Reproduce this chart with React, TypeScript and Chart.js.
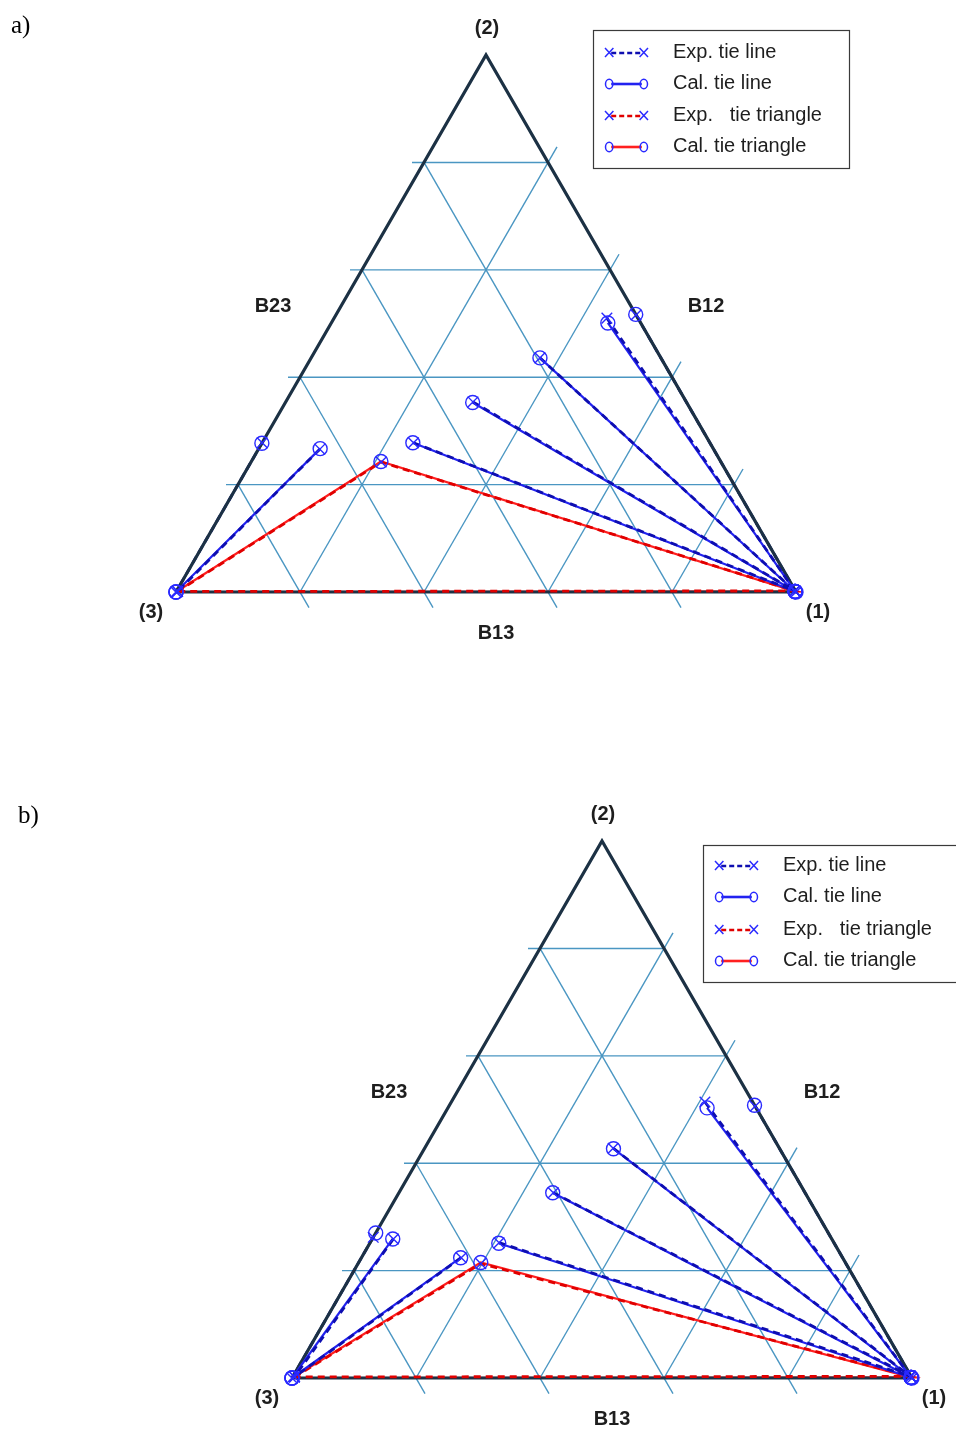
import React, { useEffect, useRef } from "react";
import { Chart, registerables } from "chart.js";

Chart.register(...registerables);

type Comp = [number, number]; // [x1, x2], x3 = 1 - x1 - x2

// ---------- shared labels / ticks ----------
const gridTicks = [0.2, 0.4, 0.6, 0.8];
const vertexLabels = ["(1)", "(2)", "(3)"];
const edgeLabels = ["B12", "B23", "B13"];
const panelLabels = ["a)", "b)"];
const legendLabels = ["Exp. tie line", "Cal. tie line", "Exp.   tie triangle", "Cal. tie triangle"];
const vertices: Comp[] = [[1, 0], [0, 1], [0, 0]]; // (1), (2), (3)

// ---------- panel a) ----------
const aExpTieLines: Comp[][] = [
  [[0.440, 0.510], [0.997, 0.002]],
  [[0.369, 0.436], [0.997, 0.002]],
  [[0.302, 0.354], [0.997, 0.002]],
  [[0.244, 0.278], [0.997, 0.002]],
  [[0.099, 0.266], [0.002, 0.001]],
];
const aCalTieLines: Comp[][] = [
  [[0.446, 0.501], [0.998, 0.001]],
  [[0.369, 0.436], [0.998, 0.001]],
  [[0.302, 0.353], [0.998, 0.001]],
  [[0.243, 0.278], [0.998, 0.001]],
  [[0.099, 0.267], [0.0, 0.0]],
];
const aExpBinary: Comp[][] = [
  [[0.484, 0.516], [1, 0]],
  [[0.0, 0.278], [0, 0]],
];
const aCalBinary: Comp[][] = [
  [[0.483, 0.517], [1, 0]],
  [[0.0, 0.277], [0, 0]],
];
const aExpTriangle: Comp[] = [[0.002, 0.001], [0.210, 0.242], [0.997, 0.002]];
const aCalTriangle: Comp[] = [[0.0, 0.0], [0.209, 0.243], [0.998, 0.001]];

// ---------- panel b) ----------
const bExpTieLines: Comp[][] = [
  [[0.409, 0.514], [0.996, 0.003]],
  [[0.304, 0.428], [0.996, 0.003]],
  [[0.249, 0.345], [0.996, 0.003]],
  [[0.208, 0.252], [0.996, 0.003]],
  [[0.161, 0.224], [0.003, 0.002]],
  [[0.034, 0.259], [0.003, 0.002]],
];
const bCalTieLines: Comp[][] = [
  [[0.418, 0.503], [0.998, 0.001]],
  [[0.305, 0.427], [0.998, 0.001]],
  [[0.248, 0.345], [0.998, 0.001]],
  [[0.208, 0.251], [0.998, 0.001]],
  [[0.160, 0.224], [0.0, 0.0]],
  [[0.033, 0.259], [0.0, 0.0]],
];
const bExpBinary: Comp[][] = [
  [[0.494, 0.506], [1, 0]],
  [[0.0, 0.262], [0, 0]],
];
const bCalBinary: Comp[][] = [
  [[0.492, 0.508], [1, 0]],
  [[0.0, 0.270], [0, 0]],
];
const bExpTriangle: Comp[] = [[0.003, 0.002], [0.198, 0.213], [0.996, 0.003]];
const bCalTriangle: Comp[] = [[0.0, 0.0], [0.197, 0.215], [0.998, 0.001]];

// ---------- styling ----------
const SQ = Math.sqrt(3) / 2;
const PX = 620; // pixels per composition unit
const W = 956;
const GRID = "#4a96c2";
const EDGE = "#1c3144";
const BLUE_CAL = "#2222f0";
const BLUE_EXP = "#0e0eb0";
const RED_CAL = "#ff2020";
const RED_EXP = "#e00000";
const MARK = "#2a2aff";
const TEXT = "#1e1e1e";

const toXY = (c: Comp) => ({ x: c[0] + c[1] / 2, y: c[1] * SQ });

function gridSegments(ticks: number[]) {
  const hExt = 12 / PX;
  const sExt = 18 / PX;
  const segs: { x: number; y: number }[][] = [];
  ticks.forEach((t) => {
    const a = toXY([0, t]);
    const b = toXY([1 - t, t]);
    segs.push([{ x: a.x - hExt, y: a.y }, b]);
    const c = toXY([t, 0]);
    const d = toXY([t, 1 - t]);
    segs.push([c, { x: d.x + sExt * 0.5, y: d.y + sExt * SQ }]);
    const e = toXY([0, 1 - t]);
    const f = toXY([1 - t, 0]);
    segs.push([e, { x: f.x + sExt * 0.5, y: f.y - sExt * SQ }]);
  });
  return segs;
}

type Panel = {
  label: string;
  height: number;
  top: number;
  ox: number; // pixel of vertex (3) inside canvas
  oy: number;
  expTie: Comp[][];
  calTie: Comp[][];
  expBin: Comp[][];
  calBin: Comp[][];
  expTri: Comp[];
  calTri: Comp[];
  panelPos: [number, number];
  legend: { left: number; top: number; width: number; height: number; rows: number[]; sx0: number; sx1: number; tx: number };
};

const panels: Panel[] = [
  {
    label: panelLabels[0],
    height: 715,
    top: 0,
    ox: 176,
    oy: 592,
    expTie: aExpTieLines,
    calTie: aCalTieLines,
    expBin: aExpBinary,
    calBin: aCalBinary,
    expTri: aExpTriangle,
    calTri: aCalTriangle,
    panelPos: [11, 33],
    legend: { left: 593, top: 30, width: 256, height: 138, rows: [52, 83, 115, 146], sx0: 605, sx1: 648, tx: 673 },
  },
  {
    label: panelLabels[1],
    height: 714,
    top: 715,
    ox: 292,
    oy: 663,
    expTie: bExpTieLines,
    calTie: bCalTieLines,
    expBin: bExpBinary,
    calBin: bCalBinary,
    expTri: bExpTriangle,
    calTri: bCalTriangle,
    panelPos: [18, 108],
    legend: { left: 703, top: 130, width: 300, height: 137, rows: [150, 181, 214, 245], sx0: 715, sx1: 758, tx: 783 },
  },
];

function seg(pts: { x: number; y: number }[], color: string, width: number, dash: number[], order: number) {
  return {
    data: pts,
    showLine: true,
    borderColor: color,
    borderWidth: width,
    borderDash: dash,
    pointRadius: 0,
    pointHoverRadius: 0,
    fill: false,
    tension: 0,
    order,
    clip: false as const,
    borderJoinStyle: "miter" as const,
    borderCapStyle: "butt" as const,
  };
}

function markers(pts: Comp[], style: string, radius: number, order: number) {
  return {
    data: pts.map(toXY),
    showLine: false,
    pointStyle: style,
    pointRadius: radius,
    pointHoverRadius: radius,
    pointBorderColor: MARK,
    pointBackgroundColor: "rgba(0,0,0,0)",
    pointBorderWidth: 1.4,
    order,
    clip: false as const,
  };
}

function buildDatasets(p: Panel) {
  const ds: any[] = [];
  gridSegments(gridTicks).forEach((s) => ds.push(seg(s, GRID, 1.4, [], 100)));
  [...p.calBin].forEach((l) => ds.push(seg(l.map(toXY), BLUE_CAL, 2.2, [], 96)));
  [...p.expBin].forEach((l) => ds.push(seg(l.map(toXY), BLUE_EXP, 2.8, [7, 5], 95)));
  const calTri = [...p.calTri, p.calTri[0]].map(toXY);
  const expTri = [...p.expTri, p.expTri[0]].map(toXY);
  ds.push(seg(calTri, RED_CAL, 2.2, [], 92));
  ds.push(seg([vertices[2], vertices[0], vertices[1], vertices[2]].map(toXY), EDGE, 3.2, [], 90));
  ds.push(seg(expTri, RED_EXP, 2.8, [7, 5], 50));
  p.calTie.forEach((l) => ds.push(seg(l.map(toXY), BLUE_CAL, 2.2, [], 41)));
  p.expTie.forEach((l) => ds.push(seg(l.map(toXY), BLUE_EXP, 2.8, [7, 5], 40)));
  const calPts: Comp[] = [...p.calTie.flat(), ...p.calBin.flat(), ...p.calTri] as Comp[];
  const expPts: Comp[] = [...p.expTie.flat(), ...p.expBin.flat(), ...p.expTri] as Comp[];
  ds.push(markers(calPts, "circle", 7, 11));
  ds.push(markers(expPts, "crossRot", 7.5, 10));
  return ds;
}

function labelPlugin(p: Panel) {
  return {
    id: "ternaryText" + p.label,
    afterDraw(chart: any) {
      const ctx: CanvasRenderingContext2D = chart.ctx;
      const xs = chart.scales.x;
      const ys = chart.scales.y;
      const pix = (c: Comp) => {
        const v = toXY(c);
        return [xs.getPixelForValue(v.x), ys.getPixelForValue(v.y)];
      };
      ctx.save();
      const items: { t: string; at: Comp; dx: number; dy: number }[] = [
        { t: vertexLabels[1], at: vertices[1], dx: 1, dy: -27 },
        { t: vertexLabels[2], at: vertices[2], dx: -25, dy: 20 },
        { t: vertexLabels[0], at: vertices[0], dx: 22, dy: 20 },
        { t: edgeLabels[1], at: [0, 0.5], dx: -58, dy: -17 },
        { t: edgeLabels[0], at: [0.5, 0.5], dx: 65, dy: -17 },
        { t: edgeLabels[2], at: [0.5, 0], dx: 10, dy: 41 },
      ];
      ctx.fillStyle = TEXT;
      ctx.font = 'bold 20px "Liberation Sans", Arial, sans-serif';
      ctx.textAlign = "center";
      ctx.textBaseline = "middle";
      items.forEach((it) => {
        const [x, y] = pix(it.at);
        ctx.fillText(it.t, x + it.dx, y + it.dy);
      });
      ctx.fillStyle = "#000";
      ctx.font = '25px "Liberation Serif", "Times New Roman", serif';
      ctx.textAlign = "left";
      ctx.textBaseline = "alphabetic";
      ctx.fillText(p.label, p.panelPos[0], p.panelPos[1]);
      const L = p.legend;
      ctx.fillStyle = "#fff";
      ctx.fillRect(L.left, L.top, L.width, L.height);
      ctx.strokeStyle = "#3a3a3a";
      ctx.lineWidth = 1.2;
      ctx.strokeRect(L.left + 0.5, L.top + 0.5, L.width, L.height);
      const styles = [
        { mark: "x", color: BLUE_EXP, dash: true },
        { mark: "o", color: BLUE_CAL, dash: false },
        { mark: "x", color: RED_EXP, dash: true },
        { mark: "o", color: RED_CAL, dash: false },
      ];
      legendLabels.forEach((lab, i) => {
        const y = L.rows[i];
        const st = styles[i];
        const r = 4.2;
        ctx.setLineDash(st.dash ? [5, 3] : []);
        ctx.strokeStyle = st.color;
        ctx.lineWidth = 2.6;
        ctx.beginPath();
        ctx.moveTo(L.sx0 + r + 2, y + 1);
        ctx.lineTo(L.sx1 - r - 2, y + 1);
        ctx.stroke();
        ctx.setLineDash([]);
        ctx.strokeStyle = MARK;
        ctx.lineWidth = 1.5;
        [L.sx0 + r, L.sx1 - r].forEach((cx) => {
          ctx.beginPath();
          if (st.mark === "x") {
            ctx.moveTo(cx - r, y - 4);
            ctx.lineTo(cx + r, y + 5);
            ctx.moveTo(cx + r, y - 4);
            ctx.lineTo(cx - r, y + 5);
          } else {
            ctx.ellipse(cx, y + 1, r - 0.5, r + 0.5, 0, 0, Math.PI * 2);
          }
          ctx.stroke();
        });
        ctx.fillStyle = TEXT;
        ctx.font = '20px "Liberation Sans", Arial, sans-serif';
        ctx.textAlign = "left";
        ctx.textBaseline = "middle";
        ctx.fillText(lab, L.tx, y);
      });
      ctx.restore();
    },
  };
}

function TernaryPanel({ p }: { p: Panel }) {
  const ref = useRef<HTMLCanvasElement>(null);
  useEffect(() => {
    const canvas = ref.current;
    if (!canvas) return;
    const chart = new Chart(canvas, {
      type: "scatter",
      data: { datasets: buildDatasets(p) },
      options: {
        responsive: false,
        maintainAspectRatio: false,
        animation: false,
        events: [],
        devicePixelRatio: 1,
        layout: { padding: 0, autoPadding: false },
        plugins: { legend: { display: false }, tooltip: { enabled: false }, title: { display: false } },
        scales: {
          x: { type: "linear", display: false, bounds: "data", min: -p.ox / PX, max: (W - p.ox) / PX },
          y: { type: "linear", display: false, bounds: "data", min: -(p.height - p.oy) / PX, max: p.oy / PX },
        },
      },
      plugins: [labelPlugin(p)],
    } as any);
    return () => chart.destroy();
  }, [p]);
  return (
    <canvas
      ref={ref}
      width={W}
      height={p.height}
      style={{ position: "absolute", left: 0, top: p.top, width: W, height: p.height }}
    />
  );
}

export default function App() {
  return (
    <div style={{ position: "absolute", left: 0, top: 0, width: W, height: 1429, background: "#fff", overflow: "hidden" }}>
      {panels.map((p) => (
        <TernaryPanel key={p.label} p={p} />
      ))}
    </div>
  );
}
